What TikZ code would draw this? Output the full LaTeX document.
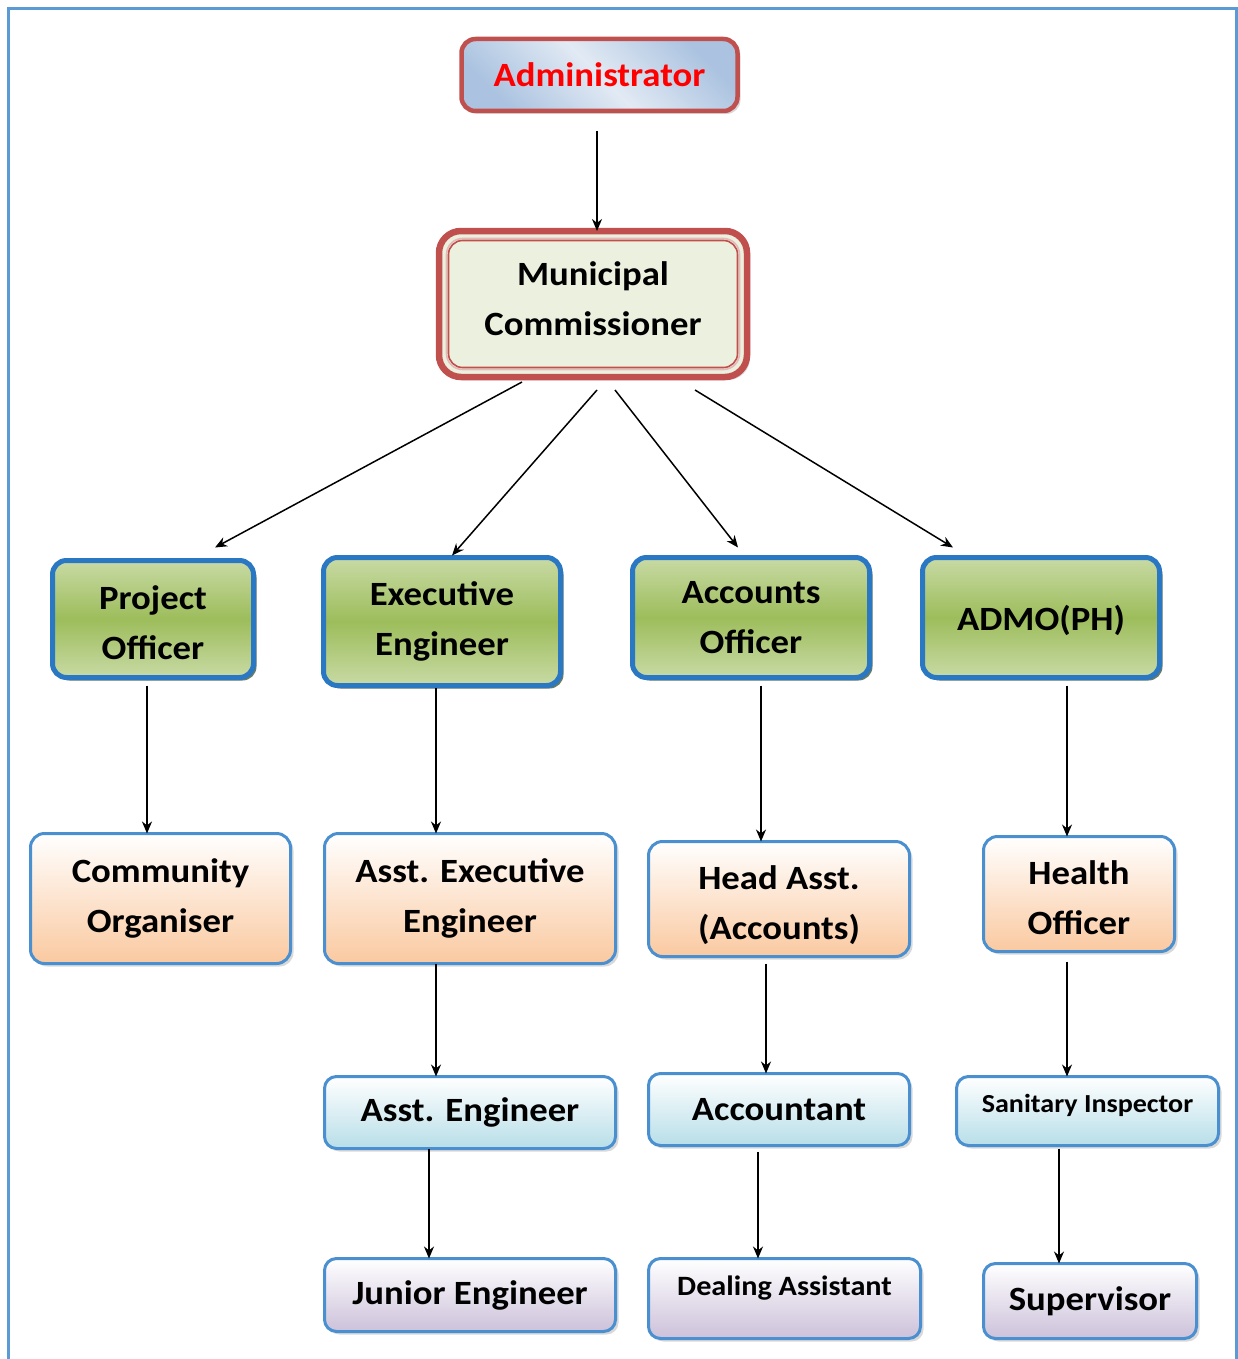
\documentclass[tikz,border=0pt]{standalone}
\usepackage{fontspec}
\setmainfont{Carlito}[FakeStretch=1.08]
\usetikzlibrary{arrows.meta,shadows}
\definecolor{frameblue}{HTML}{5B9BD5}
\definecolor{boxblue}{HTML}{2A77C4}
\definecolor{lineblue}{HTML}{4A8FD0}
\definecolor{mcred}{HTML}{C0504D}
\definecolor{mcpink}{HTML}{E6B9B8}
\definecolor{mcfill}{HTML}{EBF1DE}
\definecolor{gtop}{HTML}{C8DAA5}
\definecolor{gmid}{HTML}{9DBD5B}
\definecolor{peach}{HTML}{FAC9A0}
\definecolor{lblue}{HTML}{B7DEE8}
\definecolor{lav}{HTML}{CCC1DA}
\definecolor{adlight}{HTML}{E2EAF4}
\definecolor{addark}{HTML}{ABC3E0}
\newcommand\orgfont{\fontsize{34}{50}\selectfont\bfseries}
\newcommand\orgsi{\fontsize{26}{30}\selectfont\bfseries}
\newcommand\orgda{\fontsize{28}{30}\selectfont\bfseries}
% #1 extra height (moves text down by half), #2 extra depth (moves text up by half)
\newcommand\orgpad[3]{\raisebox{0pt}[\dimexpr\height+#1\relax][\dimexpr\depth+#2\relax]{#3}}
\newcommand\orgtwo[2]{\begin{tabular}{@{}c@{}}#1\\#2\end{tabular}}
\tikzset{
  orgbox/.style={rounded corners=14pt, align=center, font=\orgfont, text=black, inner sep=0pt, outer sep=0pt},
  greenbox/.style={orgbox, draw=boxblue, line width=5pt, top color=gtop, bottom color=gtop, middle color=gmid,
     drop shadow={shadow xshift=3pt, shadow yshift=-3pt, opacity=0.6, fill=black!65!green!40!black}},
  lightshadow/.style={drop shadow={shadow xshift=3pt, shadow yshift=-3pt, opacity=0.3, fill=black!50}},
  peachbox/.style={orgbox, draw=lineblue, line width=3pt, top color=white, bottom color=peach, lightshadow},
  bluebox/.style={orgbox, draw=lineblue, line width=3pt, top color=white, bottom color=lblue, lightshadow},
  lavbox/.style={orgbox, draw=lineblue, line width=3pt, top color=white, bottom color=lav, lightshadow},
  arr/.style={draw=black, line width=1.5pt, -{Stealth[length=12pt,width=10pt]}},
}
\begin{document}
\begin{tikzpicture}[x=1pt,y=-1pt]
\useasboundingbox (0,0) rectangle (1238,1359);
\draw[frameblue, line width=3pt] (8,1362) -- (8,9) -- (1236,9) -- (1236,1362);

% top
\node[orgbox, draw=mcred, line width=4.5pt, shading=axis, top color=addark, bottom color=addark, middle color=adlight,
      shading angle=-45, text=red, lightshadow, minimum width=276pt, minimum height=72pt] (admin) at (599.5,75) {Administrator};
\node[orgbox, draw=mcred, line width=6.5pt, fill=mcfill, rounded corners=22pt, lightshadow,
      minimum width=308pt, minimum height=146pt] (mc) at (593,304) {\orgpad{0pt}{8pt}{\orgtwo{Municipal}{Commissioner}}};
\draw[mcpink, line width=1.6pt, rounded corners=16pt] ([shift={(7.5pt,7.5pt)}]mc.south west) rectangle ([shift={(-7.5pt,-7.5pt)}]mc.north east);
\draw[mcred, line width=1.6pt, rounded corners=14pt] ([shift={(9.5pt,9.5pt)}]mc.south west) rectangle ([shift={(-9.5pt,-9.5pt)}]mc.north east);

% level 2
\node[greenbox, minimum width=201pt, minimum height=117pt] (po) at (153,619) {\orgpad{10pt}{0pt}{\orgtwo{Project}{Officer}}};
\node[greenbox, minimum width=237pt, minimum height=128pt] (ee) at (442,621.5) {Executive\\Engineer};
\node[greenbox, minimum width=237pt, minimum height=120pt] (ao) at (751,617.5) {Accounts\\Officer};
\node[greenbox, minimum width=237pt, minimum height=120pt] (admo) at (1041,617.5) {\orgpad{6pt}{0pt}{ADMO(PH)}};

% level 3
\node[peachbox, minimum width=260pt, minimum height=130pt] (co) at (160.5,898.5) {Community\\Organiser};
\node[peachbox, minimum width=291pt, minimum height=130pt] (aee) at (470,898.5) {Asst. Executive\\Engineer};
\node[peachbox, minimum width=261pt, minimum height=115pt] (ha) at (779,899) {\orgpad{10pt}{0pt}{\orgtwo{Head Asst.}{(Accounts)}}};
\node[peachbox, minimum width=191pt, minimum height=115pt] (ho) at (1079,894) {\orgpad{10pt}{0pt}{\orgtwo{Health}{Officer}}};

% level 4
\node[bluebox, rounded corners=12pt, minimum width=291pt, minimum height=72pt] (ae) at (470,1112.5) {Asst. Engineer};
\node[bluebox, rounded corners=12pt, minimum width=261pt, minimum height=72pt] (acc) at (779,1109.5) {Accountant};
\node[bluebox, rounded corners=12pt, minimum width=262pt, minimum height=69pt, font=\orgsi,
      text height=19pt, text depth=17pt] (si) at (1087.5,1111) {Sanitary Inspector};

% level 5
\node[lavbox, rounded corners=12pt, minimum width=291pt, minimum height=73pt] (je) at (470,1295) {Junior Engineer};
\node[lavbox, rounded corners=12pt, minimum width=272pt, minimum height=80pt, font=\orgda,
      text height=20pt, text depth=26pt] (da) at (784.5,1298.5) {Dealing Assistant};
\node[lavbox, rounded corners=12pt, minimum width=213pt, minimum height=75pt] (sup) at (1090,1301) {Supervisor};

% connectors
\draw[arr, shorten <=20pt] ([xshift=-2.5pt]admin.south) -- ([xshift=-2.5pt]admin.south |- mc.north);
\draw[arr] ([xshift=-71pt,yshift=-5pt]mc.south) -- ([xshift=62pt,yshift=13pt]po.north);
\draw[arr] ([xshift=4pt,yshift=-13pt]mc.south) -- ([xshift=10pt,yshift=2pt]ee.north);
\draw[arr] ([xshift=22pt,yshift=-13pt]mc.south) -- ([xshift=-13pt,yshift=10pt]ao.north);
\draw[arr] ([xshift=102pt,yshift=-13pt]mc.south) -- ([xshift=-88pt,yshift=10pt]admo.north);

\draw[arr, shorten <=8pt] ([xshift=-6pt]po.south) -- ([xshift=-6pt]po.south |- co.north);
\draw[arr, shorten <=2pt] ([xshift=-6pt]ee.south) -- ([xshift=-6pt]ee.south |- aee.north);
\draw[arr, shorten <=8pt] ([xshift=10pt]ao.south) -- ([xshift=10pt]ao.south |- ha.north);
\draw[arr, shorten <=8pt] ([xshift=26pt]admo.south) -- ([xshift=26pt]admo.south |- ho.north);

\draw[arr] ([xshift=-34pt]aee.south) -- ([xshift=-34pt]aee.south |- ae.north);
\draw[arr, shorten <=7pt] ([xshift=-13pt]ha.south) -- ([xshift=-13pt]ha.south |- acc.north);
\draw[arr, shorten <=10pt] ([xshift=-12pt]ho.south) -- ([xshift=-12pt]ho.south |- si.north);

\draw[arr] ([xshift=-41pt]ae.south) -- ([xshift=-41pt]ae.south |- je.north);
\draw[arr, shorten <=6pt] ([xshift=-21pt]acc.south) -- ([xshift=-21pt]acc.south |- da.north);
\draw[arr, shorten <=3pt] ([xshift=-28.5pt]si.south) -- ([xshift=-28.5pt]si.south |- sup.north);
\end{tikzpicture}
\end{document}
